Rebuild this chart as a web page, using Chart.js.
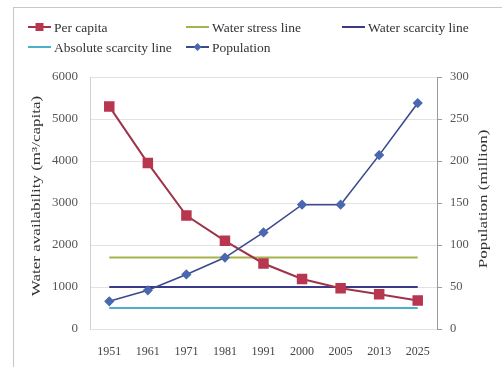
<!DOCTYPE html>
<html>
<head>
<meta charset="utf-8">
<script src="https://cdn.jsdelivr.net/npm/chart.js@4/dist/chart.umd.min.js"></script>
<style>
  html, body { margin: 0; padding: 0; background: #fff; }
  #wrap { position: relative; width: 502px; height: 367px; }
  #frame { position: absolute; left: 13px; top: 7px; right: -2px; bottom: -2px;
           border-top: 1px solid #c8c8c8; border-left: 1px solid #c8c8c8; pointer-events: none; }
  canvas { position: absolute; left: 0; top: 0; }
</style>
</head>
<body>
<div id="wrap">
  <canvas id="c" width="502" height="367"></canvas>
  <div id="frame"></div>
</div>
<script>
// Years on the horizontal axis
const years = ['1951', '1961', '1971', '1981', '1991', '2000', '2005', '2013', '2025'];

// Per-capita water availability (m³/capita), left axis
const perCapita = [5300, 3950, 2700, 2100, 1560, 1190, 970, 830, 680];

// Population (million), right axis
const population = [33, 46, 65, 85, 115, 148, 148, 207, 269];

// Threshold levels (m³/capita)
const stressLevel = 1700;
const scarcityLevel = 1000;
const absoluteLevel = 500;

// Axis ranges and steps
const leftMax = 6000, leftStep = 1000;
const rightMax = 300, rightStep = 50;

const serif = '"Liberation Serif", "Times New Roman", serif';

const colors = {
  perCapita: '#b8364f',
  perCapitaLine: '#a03349',
  stress: '#a6b24a',
  scarcity: '#3c3a86',
  absolute: '#4bb0c8',
  popLine: '#3b4a8c',
  popPoint: '#4a68b0'
};

const flat = v => years.map(() => v);

const datasets = [
  { label: 'Per capita', data: perCapita, yAxisID: 'y', borderColor: colors.perCapitaLine,
    backgroundColor: colors.perCapita, pointBackgroundColor: colors.perCapita, pointBorderColor: colors.perCapita,
    pointStyle: 'rect', pointRadius: 6, borderWidth: 2, order: 1, legendMarker: 'rect' },
  { label: 'Water stress line', data: flat(stressLevel), yAxisID: 'y', borderColor: colors.stress,
    pointRadius: 0, borderWidth: 2, order: 3 },
  { label: 'Water scarcity line', data: flat(scarcityLevel), yAxisID: 'y', borderColor: colors.scarcity,
    pointRadius: 0, borderWidth: 2, order: 3 },
  { label: 'Absolute scarcity line', data: flat(absoluteLevel), yAxisID: 'y', borderColor: colors.absolute,
    pointRadius: 0, borderWidth: 2, order: 3 },
  { label: 'Population', data: population, yAxisID: 'y1', borderColor: colors.popLine,
    backgroundColor: colors.popPoint, pointBackgroundColor: colors.popPoint, pointBorderColor: colors.popPoint,
    pointStyle: 'rectRot', pointRadius: 4, borderWidth: 1.6, order: 0, legendMarker: 'rectRot' }
];

// Legend laid out as a three-column grid above the plot
const legendGrid = {
  id: 'legendGrid',
  afterDraw(chart) {
    const ctx = chart.ctx;
    const cols = [28, 186, 342];
    const rows = [27, 47];
    ctx.save();
    ctx.font = '13.5px ' + serif;
    ctx.textBaseline = 'middle';
    chart.data.datasets.forEach((ds, i) => {
      const x = cols[i % 3], y = rows[Math.floor(i / 3)];
      ctx.strokeStyle = ds.borderColor;
      ctx.lineWidth = 2;
      ctx.beginPath(); ctx.moveTo(x, y); ctx.lineTo(x + 23, y); ctx.stroke();
      if (ds.legendMarker) {
        ctx.fillStyle = ds.pointBackgroundColor;
        ctx.beginPath();
        if (ds.legendMarker === 'rect') {
          ctx.rect(x + 11.5 - 4, y - 4, 8, 8);
        } else {
          ctx.moveTo(x + 11.5, y - 4); ctx.lineTo(x + 15.5, y);
          ctx.lineTo(x + 11.5, y + 4); ctx.lineTo(x + 7.5, y);
          ctx.closePath();
        }
        ctx.fill();
      }
      ctx.fillStyle = '#333';
      ctx.fillText(ds.label, x + 26, y + 1);
    });
    ctx.restore();
  }
};

// Rotated axis titles, both reading bottom-to-top
const axisTitles = {
  id: 'axisTitles',
  afterDraw(chart) {
    const ctx = chart.ctx;
    const draw = (text, x, y) => {
      ctx.save();
      ctx.translate(x, y);
      ctx.rotate(-Math.PI / 2);
      ctx.scale(1.42, 1);
      ctx.font = '12px ' + serif;
      ctx.fillStyle = '#333';
      ctx.textAlign = 'center';
      ctx.textBaseline = 'middle';
      ctx.fillText(text, 0, 0);
      ctx.restore();
    };
    draw('Water availability (m³/capita)', 37, 196);
    draw('Population (million)', 484, 199);
  }
};

const plain = v => String(v);

new Chart(document.getElementById('c'), {
  type: 'line',
  data: { labels: years, datasets },
  options: {
    responsive: false,
    animation: false,
    layout: { padding: { left: 50, right: 25, top: 77, bottom: 0 } },
    plugins: { legend: { display: false }, tooltip: { enabled: false } },
    elements: { line: { tension: 0 } },
    scales: {
      x: {
        offset: true,
        grid: { display: false, drawTicks: false },
        border: { display: false },
        ticks: { color: '#444', font: { family: serif, size: 12 }, padding: 16, maxRotation: 0, autoSkip: false },
        afterFit: s => { s.height = 38; }
      },
      y: {
        position: 'left',
        min: 0, max: leftMax,
        grid: { color: '#e2e2e2', drawTicks: false, lineWidth: 1 },
        border: { display: true, color: '#d0d0d0' },
        ticks: { stepSize: leftStep, color: '#555', font: { family: serif, size: 13 }, padding: 12, callback: plain },
        afterFit: s => { s.width = 40; }
      },
      y1: {
        position: 'right',
        min: 0, max: rightMax,
        grid: { drawOnChartArea: false, drawTicks: true, tickLength: 5, color: '#9a9a9a' },
        border: { display: true, color: '#9a9a9a' },
        ticks: { stepSize: rightStep, color: '#555', font: { family: serif, size: 12.5 }, padding: 8, callback: plain },
        afterFit: s => { s.width = 40; }
      }
    }
  },
  plugins: [legendGrid, axisTitles]
});
</script>
</body>
</html>
